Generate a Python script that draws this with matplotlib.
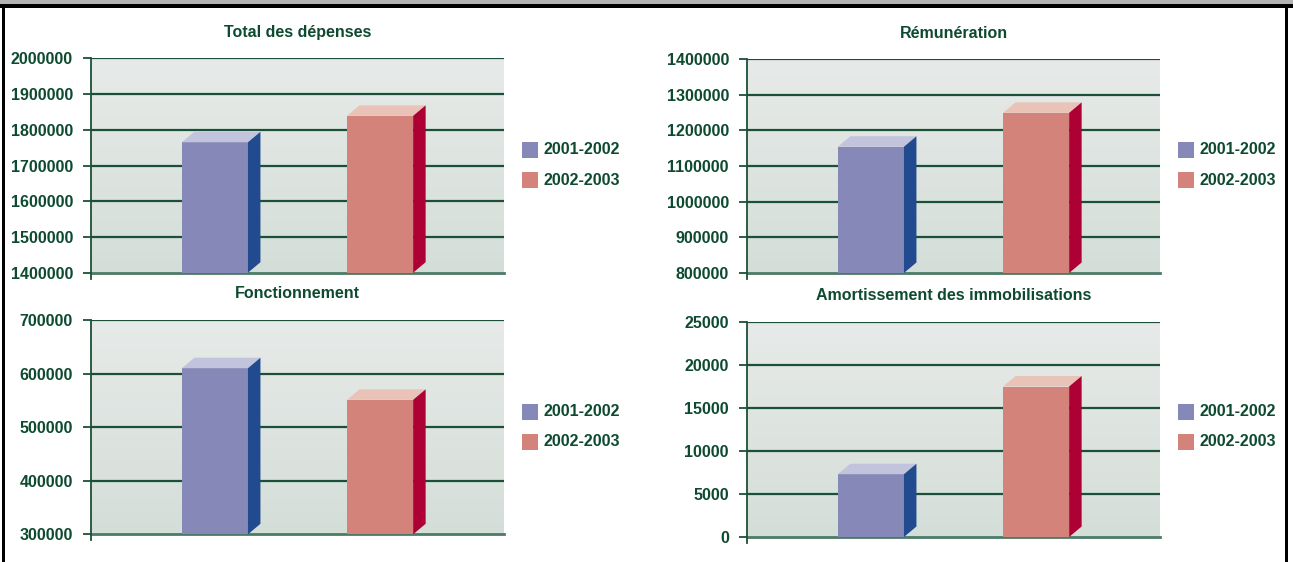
"""Four small 3D-style bar panels comparing 2001-2002 and 2002-2003 spending."""
import numpy as np
import matplotlib

matplotlib.use("Agg")
import matplotlib.pyplot as plt  # noqa: E402
from matplotlib.patches import Polygon, Rectangle  # noqa: E402

plt.rcParams["font.family"] = ["Liberation Sans", "DejaVu Sans"]
plt.rcParams["font.weight"] = "bold"

# data
periods = ["2001-2002", "2002-2003"]
titles = ["Total des dépenses", "Rémunération", "Fonctionnement",
          "Amortissement des immobilisations"]
total_depenses = [1765000, 1839000]
remuneration = [1154000, 1249000]
fonctionnement = [610000, 551000]
amortissement = [7300, 17500]
y_ranges = [(1400000, 2000000, 100000), (800000, 1400000, 100000),
            (300000, 700000, 100000), (0, 25000, 5000)]
series = [total_depenses, remuneration, fonctionnement, amortissement]

W, H = 1293, 562
TXT = "#0d4a30"
GRID = "#1b5038"
FS = 11.5
front = ["#8689b7", "#d4837b"]
tops = ["#c2c3dc", "#eac3b8"]
sides = ["#224a8e", "#ad0035"]

# axes boxes in pixels: left, right, top, bottom
boxes = [(91, 504, 58.3, 272.7), (747, 1160, 59, 273),
         (91, 504, 320, 534.3), (747, 1160, 322, 537)]
legend_y = [150, 180, 150, 180, 412, 442, 412, 442]

fig = plt.figure(figsize=(W / 100, H / 100), dpi=100)


def px(x, y):
    return x / W, 1 - y / H


grad = np.linspace(0, 1, 256).reshape(-1, 1)
c_top = np.array(matplotlib.colors.to_rgb("#e7eae8"))
c_bot = np.array(matplotlib.colors.to_rgb("#d4ded9"))
grad_img = c_top + (c_bot - c_top) * grad[:, :, None]

for i, (box, vals, (ymin, ymax, step), title) in enumerate(zip(boxes, series, y_ranges, titles)):
    l, r, t, b = box
    x0, y0 = px(l, b)
    ax = fig.add_axes([x0, y0, (r - l) / W, (b - t) / H])
    ax.set_xlim(0, 1)
    ax.set_ylim(ymin, ymax)
    ax.imshow(grad_img, extent=[0, 1, 0, 1], transform=ax.transAxes,
              aspect="auto", zorder=0)
    ticks = np.arange(ymin, ymax + step / 2, step)
    for yv in ticks[1:]:
        ax.axhline(yv, color=GRID, lw=1.6, zorder=1)
    ax.set_yticks(ticks)
    ax.set_yticklabels([f"{int(v)}" for v in ticks])
    ax.set_xticks([])
    ax.tick_params(axis="y", length=6, width=1.3, color=GRID, pad=7,
                   labelsize=FS, labelcolor=TXT)
    for s in ["top", "right"]:
        ax.spines[s].set_visible(False)
    ax.spines["left"].set_color(GRID)
    ax.spines["left"].set_linewidth(1.3)
    ax.spines["bottom"].set_color("#4d7a66")
    ax.spines["bottom"].set_linewidth(2)
    ax.spines["left"].set_bounds(ymin - (ymax - ymin) * 6 / (b - t), ymax)
    ax.spines["left"].set_zorder(5)
    for lab in ax.get_yticklabels():
        lab.set_fontweight("bold")

    # 3D bars
    dx = 12.5 / (r - l)
    dy = 10.5 / (b - t) * (ymax - ymin)
    width = 0.16
    for k, (xc, v) in enumerate(zip([0.3, 0.7], vals)):
        xl, xr = xc - width / 2, xc + width / 2
        ax.bar(xc, v - ymin, bottom=ymin, width=width, color=front[k],
               zorder=3, linewidth=0)
        ax.add_patch(Polygon([(xl, v), (xr, v), (xr + dx, v + dy), (xl + dx, v + dy)],
                             closed=True, facecolor=tops[k], lw=0, zorder=3,
                             clip_on=False))
        ax.add_patch(Polygon([(xr, ymin), (xr + dx, ymin + dy), (xr + dx, v + dy), (xr, v)],
                             closed=True, facecolor=sides[k], lw=0, zorder=3,
                             clip_on=False))

    fig.text((l + r) / 2 / W, 1 - (t - 26) / H, title, ha="center", va="center",
             fontsize=FS, color=TXT, fontweight="bold")

    # legend
    for k, lab in enumerate(periods):
        yc = legend_y[2 * i + k]
        fig.add_artist(Rectangle(px(r + 18, yc + 8), 16 / W, 16 / H,
                                 transform=fig.transFigure, facecolor=front[k], lw=0))
        fig.text((r + 39) / W, 1 - yc / H, lab, ha="left", va="center",
                 fontsize=FS, color=TXT, fontweight="bold")

# frame
fig.add_artist(Rectangle((0, 1 - 4 / H), 1, 4 / H, transform=fig.transFigure,
                         facecolor="#b4b4b4", lw=0))
fig.add_artist(Rectangle((0, 1 - 8 / H), 1, 4 / H, transform=fig.transFigure,
                         facecolor="black", lw=0))
fig.add_artist(Rectangle((2 / W, 0), 3 / W, 1 - 4 / H, transform=fig.transFigure,
                         facecolor="black", lw=0))
fig.add_artist(Rectangle((1285 / W, 0), 3 / W, 1 - 4 / H, transform=fig.transFigure,
                         facecolor="black", lw=0))

fig.savefig("out.png", dpi=100)
